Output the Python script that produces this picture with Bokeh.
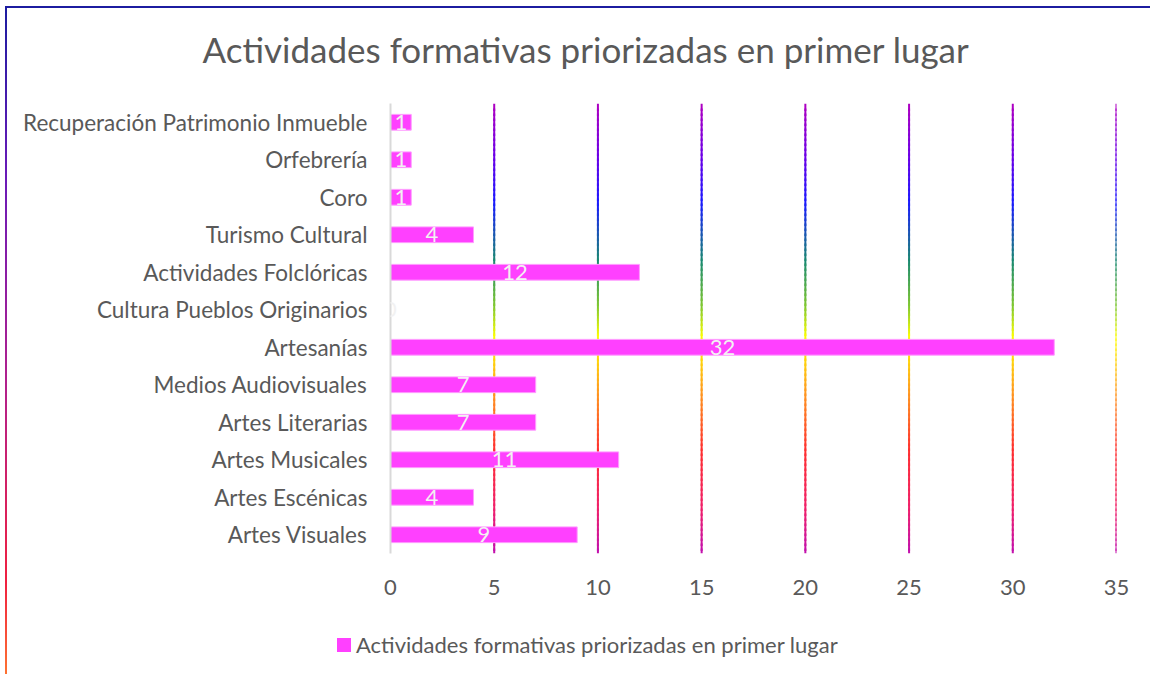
from bokeh.plotting import figure
from bokeh.models import (ColumnDataSource, FixedTicker, Range1d, FactorRange,
                          LabelSet, Title, Div)
from bokeh.core.properties import value
from bokeh.layouts import column
from bokeh.embed import file_html
from bokeh.resources import INLINE

# ---- data ----
categories = ["Artes Visuales", "Artes Escénicas", "Artes Musicales", "Artes Literarias",
              "Medios Audiovisuales", "Artesanías", "Cultura Pueblos Originarios",
              "Actividades Folclóricas", "Turismo Cultural", "Coro", "Orfebrería",
              "Recuperación Patrimonio Inmueble"]
values = [9, 4, 11, 7, 7, 32, 0, 12, 4, 1, 1, 1]
x_ticks = [0, 5, 10, 15, 20, 25, 30, 35]
series_name = "Actividades formativas priorizadas en primer lugar"
title_text = "Actividades formativas priorizadas en primer lugar"

FONT = "Lato"
TXT = "#595959"
BAR = "#ff40ff"
BAR_EDGE = "#ff9cff"
LBL = "22px"

p = figure(width=1141, height=614, y_range=FactorRange(*categories, range_padding=0),
           x_range=Range1d(0, 35), output_backend="svg", toolbar_location=None,
           min_border_left=383, min_border_right=32, min_border_top=109,
           min_border_bottom=55, outline_line_color=None,
           background_fill_color="white", border_fill_color=None,
           styles={"margin-top": "-14px"})

p.title = Title(text=title_text, align="left", offset=-188, standoff=64,
                vertical_align="top",
                text_font=FONT, text_font_size="35px", text_font_style="normal",
                text_color=TXT)

# gradient gridlines built from small pieces
stops = [(0.0, (176, 0, 192)), (0.12, (106, 0, 232)), (0.22, (26, 26, 255)),
         (0.35, (26, 138, 112)), (0.45, (128, 200, 48)), (0.52, (255, 255, 0)),
         (0.64, (255, 154, 32)), (0.77, (255, 48, 48)), (0.9, (240, 32, 106)),
         (1.0, (192, 16, 176))]

def grad(f):
    for (f0, c0), (f1, c1) in zip(stops[:-1], stops[1:]):
        if f0 <= f <= f1:
            t = (f - f0) / (f1 - f0) if f1 > f0 else 0
            c = tuple(int(round(a + (b - a) * t)) for a, b in zip(c0, c1))
            return "#%02x%02x%02x" % c
    return "#%02x%02x%02x" % stops[-1][1]

n_pieces = 90
ny = len(categories)
step = ny / n_pieces
gx, gy, gh, gc = [], [], [], []
for t in x_ticks[1:]:
    for i in range(n_pieces):
        top = ny - step * i
        bot = max(0.0, top - step * 1.5)
        gx.append(t); gy.append((top + bot) / 2); gh.append(top - bot)
        gc.append(grad((i + 0.5) / n_pieces))
p.rect(x=gx, y=gy, width=2, width_units="screen", height=gh,
       fill_color=gc, line_color=None)

src = ColumnDataSource(dict(cat=categories, val=values,
                            mid=[v / 2 for v in values],
                            lab=[str(v) for v in values]))
bars = p.hbar(y="cat", right="val", left=0, height=0.42, source=src,
              fill_color=BAR, line_color=BAR_EDGE, line_width=1)

labels = LabelSet(x="mid", y="cat", text="lab", source=src, text_align="center",
                  text_baseline="middle", text_font=value(FONT), text_font_size=LBL,
                  text_color="#f2f2f2")
p.add_layout(labels)

p.xgrid.visible = False
p.ygrid.visible = False

xa = p.xaxis[0]
xa.ticker = FixedTicker(ticks=x_ticks)
xa.axis_line_color = None
xa.major_tick_line_color = None
xa.minor_tick_line_color = None
xa.major_label_standoff = 20
xa.major_label_text_font = FONT
xa.major_label_text_font_size = LBL
xa.major_label_text_color = TXT

ya = p.yaxis[0]
ya.axis_line_color = "#d9d9d9"
ya.axis_line_width = 2
ya.major_tick_line_color = None
ya.minor_tick_line_color = None
ya.major_label_standoff = 17
ya.major_label_text_font = FONT
ya.major_label_text_font_size = "22.5px"
ya.major_label_text_color = TXT

# legend row below the chart
legend_html = (
    '<div style="position:absolute;left:325px;top:19px;height:26px;display:flex;'
    'align-items:center;white-space:nowrap;font-family:Lato;font-size:22px;'
    'color:%s;">'
    '<span style="display:inline-block;width:14px;height:14px;background:%s;'
    'margin-right:5px;"></span>%s</div>' % (TXT, BAR, series_name)
)
legend_div = Div(text=legend_html, width=1141, height=64,
                 styles={"position": "relative"})

layout = column(p, legend_div, spacing=0, styles={
    "margin": "6px 0 0 5px",
    "background": "white",
    "border-style": "solid",
    "border-width": "2px 0 0 2px",
    "border-image": "linear-gradient(to bottom, #1c1ca0 0%, #6a1ab8 25%, #b0208e 55%, #f02040 85%, #ff7a30 100%) 1",
})

open("out.html", "w").write(file_html(layout, INLINE))
